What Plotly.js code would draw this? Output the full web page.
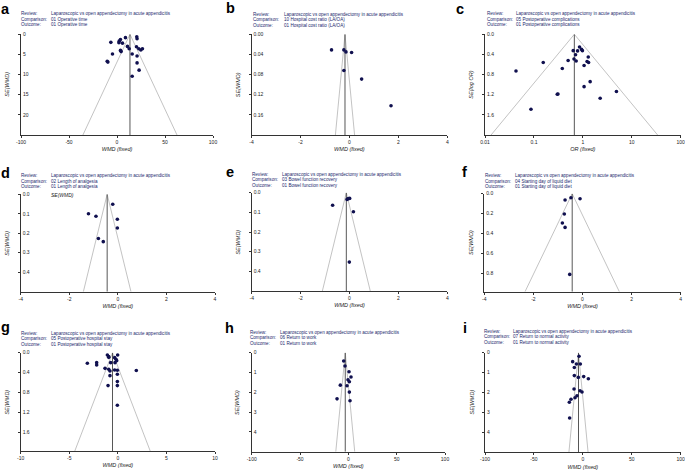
<!DOCTYPE html>
<html><head><meta charset="utf-8">
<script src="https://cdn.plot.ly/plotly-3.0.1.min.js"></script>
<style>html,body{margin:0;padding:0;background:#fff}#chart{width:685px;height:470px}</style>
</head><body><div id="chart"></div>
<script>
// ---- data ----
const panelLetters = ['a','b','c','d','e','f','g','h','i'];
const reviewText = 'Laparoscopic vs open appendectomy in acute appendicitis';
const comparisons = ['01 Operative time','10 Hospital cost ratio (LA/OA)','05 Postoperative complications','02 Length of analgesia','03 Bowel function recovery','04 Starting day of liquid diet','05 Postoperative hospital stay','06 Return to work','07 Return to normal activity'];
const outcomes = ['01 Operative time','01 Hospital cost ratio (LA/OA)','01 Postoperative complications','01 Length of analgesia','01 Bowel function recovery','01 Starting day of liquid diet','01 Postoperative hospital stay','01 Return to work','01 Return to normal activity'];
const xTitles = ['WMD (fixed)','WMD (fixed)','OR (fixed)','WMD (fixed)','WMD (fixed)','WMD (fixed)','WMD (fixed)','WMD (fixed)','WMD (fixed)'];
const yTitles = ['SE(WMD)','SE(WMD)','SE(log OR)','SE(WMD)','SE(WMD)','SE(WMD)','SE(WMD)','SE(WMD)','SE(WMD)'];

const aX = [8.8,-6.4,2.3,3.6,2.0,5.7,10.9,12.7,3.6,4.3,-4.7,15.8,20.6,20.9,20.3,22.7,24.8,26.5,20.9,20.9,23.0,15.8,-10.2,-9.5];
const aSE = [0.83,2.0,1.7,1.3,2.1,2.2,3.0,3.6,4.0,4.3,4.9,4.9,0.6,1.1,3.1,3.6,3.9,3.6,5.4,7.1,8.9,10.4,6.7,6.9];
const bX = [-0.73,-0.225,-0.14,0.09,-0.225,0.50,1.70];
const bSE = [0.031,0.031,0.035,0.036,0.072,0.089,0.142];
const cOR = [0.855,0.94,0.98,0.635,0.78,0.71,1.29,0.50,0.66,0.73,1.22,1.31,1.06,0.155,0.38,0.043,1.41,1.06,4.86,0.30,0.31,2.26,0.087];
const cSE = [0.252,0.30,0.325,0.325,0.33,0.405,0.45,0.52,0.49,0.53,0.54,0.56,0.62,0.56,0.68,0.73,0.94,1.04,1.135,1.19,1.185,1.27,1.49];
const dX = [-0.21,-1.21,-0.90,-0.02,-0.02,-0.80,-0.60];
const dSE = [0.051,0.10,0.113,0.128,0.173,0.227,0.243];
const eX = [-0.69,-0.10,-0.05,0.007,0.16,-0.007];
const eSE = [0.064,0.034,0.030,0.029,0.097,0.353];
const fX = [-0.47,-0.10,-0.71,-0.74,-0.82,-0.71,-0.52];
const fSE = [0.04,0.05,0.063,0.203,0.293,0.337,0.807];
const gX = [-3.14,-2.18,-2.18,-1.08,-0.94,-0.94,-0.74,-0.29,-0.33,-0.19,-0.02,-0.12,-1.32,-0.94,-0.81,-0.33,-0.05,-0.05,-0.81,-1.01,-0.05,-0.05,-0.05,1.90];
const gSE = [0.214,0.20,0.248,0.047,0.08,0.094,0.20,0.20,0.10,0.134,0.047,0.16,0.315,0.335,0.368,0.348,0.355,0.435,0.462,0.663,0.582,0.663,1.058,0.36];
const hX = [-4.83,-3.45,0.69,2.76,-0.34,1.03,-8.3,-1.38,1.03,1.72,-11.7];
const hSE = [0.42,0.675,0.96,1.23,1.37,1.47,1.64,1.67,1.99,2.43,2.33];
const iX = [-3.92,-10.4,-6.6,-2.6,-8.7,-8.7,-4.6,0.85,5.6,-9.0,-2.9,-0.85,-6.0,-8.0,-12.1,-13.8,-13.5];
const iSE = [0.18,0.45,0.57,0.57,0.74,1.15,1.24,1.2,1.31,1.82,1.91,1.97,2.16,2.26,2.34,2.49,3.28];
const pooled = [13.5,-0.18,0.67,-0.44,-0.13,-0.42,-0.55,-3.2,-4.45];
const seMax = [25,0.2,2.0,0.5,0.5,0.98,1.98,5,5];

const xTickVals = [[-100,-50,0,50,100],[-4,-2,0,2,4],[0.01,0.1,1,10,100],[-4,-2,0,2,4],[-4,-2,0,2,4],[-4,-2,0,2,4],[-10,-5,0,5,10],[-100,-50,0,50,100],[-100,-50,0,50,100]];
const xTickText = [['-100','-50','0','50','100'],['-4','-2','0','2','4'],['0.01','0.1','1','10','100'],['-4','-2','0','2','4'],['-4','-2','0','2','4'],['-4','-2','0','2','4'],['-10','-5','0','5','10'],['-100','-50','0','50','100'],['-100','-50','0','50','100']];
const yTickVals = [[0,5,10,15,20],[0,0.04,0.08,0.12,0.16],[0,0.4,0.8,1.2,1.6],[0,0.1,0.2,0.3,0.4],[0,0.1,0.2,0.3,0.4],[0,0.2,0.4,0.6,0.8],[0,0.4,0.8,1.2,1.6],[0,1,2,3,4],[0,1,2,3,4]];
const yTickText = [['0','5','10','15','20'],['0.00','0.04','0.08','0.12','0.16'],['0.0','0.4','0.8','1.2','1.6'],['0.0','0.1','0.2','0.3','0.4'],['0.0','0.1','0.2','0.3','0.4'],['0.0','0.2','0.4','0.6','0.8'],['0.0','0.4','0.8','1.2','1.6'],['0','1','2','3','4'],['0','1','2','3','4']];

// ---- layout geometry (pixels) ----
const W = 685, H = 470;
const boxes = [ // [left, right, top, bottom]
  [21,213,34.3,135],[251.5,447.3,34.3,135],[485,680.7,34.3,135],
  [20.7,215,194.3,291.7],[251.7,447.3,192.7,291],[484.3,680.7,193.7,291.7],
  [20.7,215,352.7,451],[251.7,445,352.7,451.7],[485,680.7,352.7,452.3]];
const xRanges = [[-100,100],[-4,4],[-2,2],[-4,4],[-4,4],[-4,4],[-10,10],[-100,100],[-100,100]];
const headerPos = [ // [labelX, valueX, reviewY, lineGap]
  [19,49.3,13.3,5.7],[251,281.7,14.7,5.2],[485,514,13.3,5.7],
  [19,49.3,175.7,5.5],[250.3,280,174.3,5.4],[483.3,512.7,175.7,5.6],
  [19,49.3,333.3,5.4],[248.3,278.3,332,5.6],[481.7,510.7,331,5.9]];
const letterPos = [[0,9],[225,8],[455,8.5],[0,173],[225,172],[461,172],[0,327],[224,328],[462,328]];

const xs = [aX,bX,cOR,dX,eX,fX,gX,hX,iX];
const ses = [aSE,bSE,cSE,dSE,eSE,fSE,gSE,hSE,iSE];

const FONT = 'Liberation Sans, Arial, sans-serif';
const navy = '#232a6e';
const traces = [];
const layout = {
  width: W, height: H, margin: {l:0,r:0,t:0,b:0},
  paper_bgcolor: '#fff', plot_bgcolor: 'rgba(0,0,0,0)',
  showlegend: false, font: {family: FONT, size: 5, color: '#222'},
  annotations: []
};
const px = v => v / W, py = v => 1 - v / H;

for (let k = 0; k < 9; k++) {
  const n = k === 0 ? '' : String(k + 1);
  const xa = 'x' + n, ya = 'y' + n;
  const isLog = k === 2;
  const c = pooled[k], sm = seMax[k];
  let fx;
  if (isLog) {
    fx = [Math.exp(Math.log(c) - 1.96 * sm), c, Math.exp(Math.log(c) + 1.96 * sm)];
  } else {
    fx = [c - 1.96 * sm, c, c + 1.96 * sm];
  }
  traces.push({x: fx, y: [sm, 0, sm], xaxis: xa, yaxis: ya, mode: 'lines', type: 'scatter',
    line: {color: '#b4b4b4', width: 0.8}, hoverinfo: 'skip'});
  traces.push({x: [c, c], y: [0, sm], xaxis: xa, yaxis: ya, mode: 'lines', type: 'scatter',
    line: {color: '#444', width: 0.9}, hoverinfo: 'skip'});
  traces.push({x: xs[k], y: ses[k], xaxis: xa, yaxis: ya, mode: 'markers', type: 'scatter',
    marker: {color: '#10104f', size: 3.6}});

  const b = boxes[k];
  layout['xaxis' + n] = {
    domain: [px(b[0]), px(b[1])], anchor: ya, type: isLog ? 'log' : 'linear',
    range: xRanges[k], showgrid: false, zeroline: false, showline: true,
    linecolor: '#333', linewidth: 1, ticks: 'outside', ticklen: 2, tickcolor: '#333',
    ticklabeloverflow: 'allow',
    tickvals: xTickVals[k], ticktext: xTickText[k], tickfont: {size: 5, color: '#222', family: FONT},
    title: {text: xTitles[k], font: {size: 5.5, color: '#222', family: FONT, style: 'italic'}, standoff: 3},
    fixedrange: true
  };
  layout['yaxis' + n] = {
    domain: [py(b[3]), py(b[2])], anchor: xa, range: [sm, 0],
    showgrid: false, zeroline: false, showline: true, linecolor: '#333', linewidth: 1,
    ticks: 'outside', ticklen: 2, tickcolor: '#333', ticklabelposition: 'inside',
    ticklabeloverflow: 'allow',
    tickvals: yTickVals[k], ticktext: yTickText[k], tickfont: {size: 5, color: '#222', family: FONT},
    title: {text: '', font: {size: 5.5}}, fixedrange: true
  };
  // y axis title as rotated annotation
  layout.annotations.push({text: yTitles[k], xref: 'paper', yref: 'paper', x: px(b[0] - 14), y: py((b[2] + b[3]) / 2),
    textangle: -90, showarrow: false, xanchor: 'center', yanchor: 'middle',
    font: {size: 5.5, family: FONT, color: '#222', style: 'italic'}});
  // header lines
  const hp = headerPos[k];
  const labels = ['Review:', 'Comparison:', 'Outcome:'];
  const vals = [reviewText, comparisons[k], outcomes[k]];
  for (let r = 0; r < 3; r++) {
    layout.annotations.push({text: labels[r], xref: 'paper', yref: 'paper', x: px(hp[0]), y: py(hp[2] + r * hp[3]),
      showarrow: false, xanchor: 'left', yanchor: 'middle', font: {size: 4.6, family: FONT, color: navy}});
    layout.annotations.push({text: vals[r], xref: 'paper', yref: 'paper', x: px(hp[1]), y: py(hp[2] + r * hp[3]),
      showarrow: false, xanchor: 'left', yanchor: 'middle', font: {size: 4.6, family: FONT, color: navy}});
  }
  // panel letter
  const lp = letterPos[k];
  layout.annotations.push({text: '<b>' + panelLetters[k] + '</b>', xref: 'paper', yref: 'paper', x: px(lp[0]), y: py(lp[1]),
    showarrow: false, xanchor: 'left', yanchor: 'middle', borderpad: 0, font: {size: 14.5, family: FONT, color: '#000'}});
}
// extra label near top of panel d
layout.annotations.push({text: 'SE(WMD)', xref: 'paper', yref: 'paper', x: px(49), y: py(194.5),
  showarrow: false, xanchor: 'left', yanchor: 'middle', font: {size: 5, family: FONT, color: '#222', style: 'italic'}});

Plotly.newPlot('chart', traces, layout, {staticPlot: true, displayModeBar: false});
</script></body></html>
